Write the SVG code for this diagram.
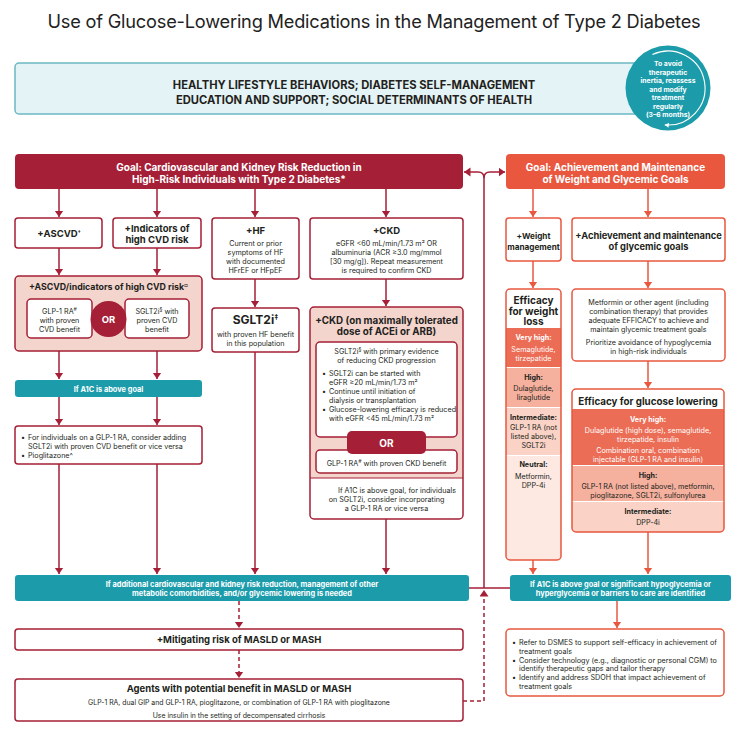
<svg xmlns="http://www.w3.org/2000/svg" width="748" height="737" viewBox="0 0 748 737">
<defs>
<style>
text{font-family:Inter,"Liberation Sans","DejaVu Sans",sans-serif;fill:#231f20}
.c{text-anchor:middle}
.b{font-weight:700}
.sm{font-size:7.2px}
.w{fill:#fff}
.box{fill:#fff;stroke:#a51f36;stroke-width:1.5}
.obox{fill:#fff;stroke:#e9573f;stroke-width:1.5}
.ofr{fill:none;stroke:#e9573f;stroke-width:1.5}
.teal{fill:#1c9cab}
.rl{stroke:#a51f36;stroke-width:1.5;fill:none}
.ol{stroke:#e9573f;stroke-width:1.5;fill:none}
.da{stroke-dasharray:4 3}
.sup{font-size:5.2px}
.vh{fill:#ec6d55}
.hi{fill:#f6b19e}
.im{fill:#fad3c6}
.ne{fill:#fde9e2}
</style>
<marker id="ar" markerUnits="userSpaceOnUse" markerWidth="8" markerHeight="10" refX="6.5" refY="4.5" orient="auto"><path d="M0,0 L6.5,4.5 L0,9 z" fill="#a51f36"/></marker>
<marker id="ao" markerUnits="userSpaceOnUse" markerWidth="8" markerHeight="10" refX="6.5" refY="4.5" orient="auto"><path d="M0,0 L6.5,4.5 L0,9 z" fill="#e9573f"/></marker>
<marker id="aw" markerUnits="userSpaceOnUse" markerWidth="6" markerHeight="6" refX="4" refY="2.5" orient="auto"><path d="M0,0 L4,2.5 L0,5 z" fill="#fff"/></marker>
<clipPath id="cw"><rect x="506" y="289" width="55" height="271" rx="4"/></clipPath>
<clipPath id="cg"><rect x="572" y="389" width="152" height="143" rx="4"/></clipPath>
</defs>
<rect width="748" height="737" fill="#fff"/>

<text x="374" y="28" class="c" font-size="18.2" style="fill:#222;letter-spacing:-0.2px">Use of Glucose-Lowering Medications in the Management of Type 2 Diabetes</text>

<g id="header">
<rect x="15" y="63" width="625" height="51" rx="4" fill="#e4f3f5" stroke="#6bb8c2" stroke-width="1.5"/>
<text x="354" y="89" class="c b" font-size="11.2">HEALTHY LIFESTYLE BEHAVIORS; DIABETES SELF-MANAGEMENT</text>
<text x="354" y="104" class="c b" font-size="11.2">EDUCATION AND SUPPORT; SOCIAL DETERMINANTS OF HEALTH</text>
</g>

<g id="reassess">
<circle cx="668" cy="88" r="42.5" fill="#1c9cab"/>
<path d="M652.4,54.5 A37,37 0 1 1 664.8,124.9" fill="none" stroke="#fff" stroke-width="1.1" marker-end="url(#aw)"/>
<g class="c b" font-size="6.8">
<text x="668" y="66" class="c b w">To avoid</text>
<text x="668" y="74.5" class="c b w">therapeutic</text>
<text x="668" y="83" class="c b w">inertia, reassess</text>
<text x="668" y="91.5" class="c b w">and modify</text>
<text x="668" y="100" class="c b w">treatment</text>
<text x="668" y="108.5" class="c b w">regularly</text>
<text x="668" y="117" class="c b w">(3–6 months)</text>
</g>
</g>

<g id="connectors">
<path class="rl" d="M484,588 V178 Q484,172 478,172 H464" marker-end="url(#ar)"/>
<path class="rl" d="M484,178 Q484,172 490,172 H505" marker-end="url(#ar)"/>
<path class="rl" d="M469,588 H510"/>
<path class="rl" d="M59,189 V217" marker-end="url(#ar)"/>
<path class="rl" d="M157,189 V217" marker-end="url(#ar)"/>
<path class="rl" d="M255,189 V217" marker-end="url(#ar)"/>
<path class="rl" d="M386,189 V217" marker-end="url(#ar)"/>
<path class="rl" d="M59,248 V275" marker-end="url(#ar)"/>
<path class="rl" d="M157,248 V275" marker-end="url(#ar)"/>
<path class="rl" d="M59,338 V379" marker-end="url(#ar)"/>
<path class="rl" d="M157,338 V379" marker-end="url(#ar)"/>
<path class="rl" d="M59,397 V425" marker-end="url(#ar)"/>
<path class="rl" d="M157,397 V425" marker-end="url(#ar)"/>
<path class="rl" d="M59,464 V574" marker-end="url(#ar)"/>
<path class="rl" d="M157,464 V574" marker-end="url(#ar)"/>
<path class="rl" d="M255,279 V307" marker-end="url(#ar)"/>
<path class="rl" d="M255,352 V574" marker-end="url(#ar)"/>
<path class="rl" d="M386,279 V306" marker-end="url(#ar)"/>
<path class="rl" d="M386,519 V574" marker-end="url(#ar)"/>
<path class="rl da" d="M239,601 V628" marker-end="url(#ar)"/>
<path class="rl da" d="M239,650 V678" marker-end="url(#ar)"/>
<path class="rl da" d="M463,701 H484 V590" marker-end="url(#ar)"/>
<path class="ol" d="M533,189 V217" marker-end="url(#ao)"/>
<path class="ol" d="M648,189 V217" marker-end="url(#ao)"/>
<path class="ol" d="M533,261 V288" marker-end="url(#ao)"/>
<path class="ol" d="M648,261 V288" marker-end="url(#ao)"/>
<path class="ol" d="M648,361 V388" marker-end="url(#ao)"/>
<path class="ol" d="M533,560 V574" marker-end="url(#ao)"/>
<path class="ol" d="M648,532 V574" marker-end="url(#ao)"/>
<path class="ol" d="M617,601 V628" marker-end="url(#ao)"/>
</g>

<g id="goal-cv">
<rect x="15" y="154" width="448" height="35" rx="4" fill="#a51f36"/>
<text x="239" y="170.5" class="c b w" font-size="10">Goal: Cardiovascular and Kidney Risk Reduction in</text>
<text x="239" y="182.5" class="c b w" font-size="10">High-Risk Individuals with Type 2 Diabetes*</text>
</g>

<g id="goal-glyc">
<rect x="506" y="154" width="219" height="35" rx="4" fill="#e9573f"/>
<text x="615.5" y="170.5" class="c b w" font-size="10">Goal: Achievement and Maintenance</text>
<text x="615.5" y="182.5" class="c b w" font-size="10">of Weight and Glycemic Goals</text>
</g>

<g id="ascvd">
<rect class="box" x="15" y="218" width="87" height="30" rx="3"/>
<text x="59" y="236.5" class="c b" font-size="9.5">+ASCVD<tspan class="sup" baseline-shift="super">†</tspan></text>
</g>

<g id="indicators">
<rect class="box" x="113" y="218" width="88" height="30" rx="3"/>
<text x="157" y="232" class="c b" font-size="9.5">+Indicators of</text>
<text x="157" y="243" class="c b" font-size="9.5">high CVD risk</text>
</g>

<g id="hf">
<rect class="box" x="212" y="218" width="87" height="61" rx="3"/>
<text x="255.5" y="233.5" class="c b" font-size="9.5">+HF</text>
<text x="255.5" y="246" class="c sm">Current or prior</text>
<text x="255.5" y="255" class="c sm">symptoms of HF</text>
<text x="255.5" y="264" class="c sm">with documented</text>
<text x="255.5" y="273" class="c sm">HFrEF or HFpEF</text>
</g>

<g id="ckd">
<rect class="box" x="310" y="218" width="153" height="61" rx="3"/>
<text x="386.5" y="233.5" class="c b" font-size="9.5">+CKD</text>
<text x="386.5" y="246" class="c sm">eGFR &lt;60 mL/min/1.73 m² OR</text>
<text x="386.5" y="255" class="c sm">albuminuria (ACR ≥3.0 mg/mmol</text>
<text x="386.5" y="264" class="c sm">[30 mg/g]). Repeat measurement</text>
<text x="386.5" y="273" class="c sm">is required to confirm CKD</text>
</g>

<g id="ascvd-risk">
<rect x="15" y="276" width="187" height="75" rx="4" fill="#f4d5ce" stroke="#a51f36" stroke-width="1.5"/>
<text x="108.5" y="289.5" class="c b" font-size="8.8">+ASCVD/indicators of high CVD risk<tspan class="sup" baseline-shift="super">¤</tspan></text>
<rect class="box" x="27" y="299" width="65" height="39" rx="4"/>
<text x="59.5" y="313.5" class="c sm">GLP-1 RA<tspan class="sup" baseline-shift="super">#</tspan></text>
<text x="59.5" y="322.5" class="c sm">with proven</text>
<text x="59.5" y="331.5" class="c sm">CVD benefit</text>
<rect class="box" x="125" y="299" width="64" height="39" rx="4"/>
<text x="157" y="313.5" class="c sm">SGLT2i<tspan class="sup" baseline-shift="super">§</tspan> with</text>
<text x="157" y="322.5" class="c sm">proven CVD</text>
<text x="157" y="331.5" class="c sm">benefit</text>
<circle cx="108.5" cy="319" r="18" fill="#a51f36"/>
<text x="108.5" y="322.5" class="c b w" font-size="9.5">OR</text>
</g>

<g id="a1c-left">
<rect class="teal" x="15" y="380" width="187" height="17" rx="3"/>
<text x="108.5" y="391.5" class="c b w" font-size="7.4">If A1C is above goal</text>
</g>

<g id="combo-left">
<rect class="box" x="15" y="426" width="187" height="38" rx="3"/>
<text x="21" y="439.5" class="sm">•</text>
<text x="28" y="439.5" class="sm">For individuals on a GLP-1 RA, consider adding</text>
<text x="28" y="448.5" class="sm">SGLT2i with proven CVD benefit or vice versa</text>
<text x="21" y="457.5" class="sm">•</text>
<text x="28" y="457.5" class="sm">Pioglitazone^</text>
</g>

<g id="sglt2i-hf">
<rect class="box" x="212" y="308" width="87" height="44" rx="3"/>
<text x="255.5" y="324" class="c b" font-size="12">SGLT2i<tspan class="sup" baseline-shift="super" style="font-size:7px">‡</tspan></text>
<text x="255.5" y="337" class="c sm">with proven HF benefit</text>
<text x="255.5" y="346" class="c sm">in this population</text>
</g>

<g id="ckd-acei">
<rect x="310" y="307" width="153" height="212" rx="4" fill="#fff"/>
<path d="M310,478 V311 Q310,307 314,307 H459 Q463,307 463,311 V478 Z" fill="#f4d5ce"/>
<line x1="310" y1="478" x2="463" y2="478" stroke="#a51f36" stroke-width="1.2"/>
<rect x="310" y="307" width="153" height="212" rx="4" fill="none" stroke="#a51f36" stroke-width="1.5"/>
<text x="386.5" y="323.5" class="c b" font-size="9.8">+CKD (on maximally tolerated</text>
<text x="386.5" y="335" class="c b" font-size="9.8">dose of ACEi or ARB)</text>
<rect class="box" x="316" y="342" width="141" height="95" rx="4"/>
<text x="386.5" y="354" class="c sm">SGLT2i<tspan class="sup" baseline-shift="super">§</tspan> with primary evidence</text>
<text x="386.5" y="363" class="c sm">of reducing CKD progression</text>
<text x="322" y="376" class="sm">•</text>
<text x="329" y="376" class="sm">SGLT2i can be started with</text>
<text x="329" y="385" class="sm">eGFR ≥20 mL/min/1.73 m²</text>
<text x="322" y="394" class="sm">•</text>
<text x="329" y="394" class="sm">Continue until initiation of</text>
<text x="329" y="403" class="sm">dialysis or transplantation</text>
<text x="322" y="412" class="sm">•</text>
<text x="329" y="412" class="sm">Glucose-lowering efficacy is reduced</text>
<text x="329" y="421" class="sm">with eGFR &lt;45 mL/min/1.73 m²</text>
<rect class="box" x="316" y="450" width="141" height="23" rx="4"/>
<text x="386.5" y="466" class="c sm">GLP-1 RA<tspan class="sup" baseline-shift="super">#</tspan> with proven CKD benefit</text>
<rect x="347" y="431" width="79" height="23" rx="5" fill="#a51f36"/>
<text x="386.5" y="446.5" class="c b w" font-size="10">OR</text>
<text x="397" y="493" class="c sm">If A1C is above goal, for individuals</text>
<text x="386.5" y="502" class="c sm">on SGLT2i, consider incorporating</text>
<text x="386.5" y="511" class="c sm">a GLP-1 RA or vice versa</text>
</g>

<g id="weight-mgmt">
<rect class="obox" x="506" y="218" width="55" height="43" rx="3"/>
<text x="533.5" y="239" class="c b" font-size="8.2">+Weight</text>
<text x="533.5" y="250" class="c b" font-size="8.2">management</text>
</g>

<g id="glyc-goals">
<rect class="obox" x="572" y="218" width="153" height="43" rx="3"/>
<text x="648.5" y="238.5" class="c b" font-size="9.3">+Achievement and maintenance</text>
<text x="648.5" y="250" class="c b" font-size="9.3">of glycemic goals</text>
</g>

<g id="weight-efficacy">
<g clip-path="url(#cw)">
<rect x="506" y="289" width="55" height="271" fill="#fff"/>
<rect class="vh" x="506" y="328" width="55" height="39"/>
<rect class="hi" x="506" y="368" width="55" height="39"/>
<rect class="im" x="506" y="408" width="55" height="47"/>
<rect class="ne" x="506" y="456" width="55" height="104"/>
</g>
<rect class="ofr" x="506" y="289" width="55" height="271" rx="4"/>
<text x="533.5" y="303.5" class="c b" font-size="10">Efficacy</text>
<text x="533.5" y="314.5" class="c b" font-size="10">for weight</text>
<text x="533.5" y="325" class="c b" font-size="10">loss</text>
<text x="533.5" y="340" class="c b sm w">Very high:</text>
<text x="533.5" y="352" class="c sm w">Semaglutide,</text>
<text x="533.5" y="361" class="c sm w">tirzepatide</text>
<text x="533.5" y="380" class="c b sm">High:</text>
<text x="533.5" y="391" class="c sm">Dulaglutide,</text>
<text x="533.5" y="400" class="c sm">liraglutide</text>
<text x="533.5" y="420" class="c b sm">Intermediate:</text>
<text x="533.5" y="430" class="c sm">GLP-1 RA (not</text>
<text x="533.5" y="439" class="c sm">listed above),</text>
<text x="533.5" y="448" class="c sm">SGLT2i</text>
<text x="533.5" y="467" class="c b sm">Neutral:</text>
<text x="533.5" y="479" class="c sm">Metformin,</text>
<text x="533.5" y="488" class="c sm">DPP-4i</text>
</g>

<g id="metformin">
<rect class="obox" x="572" y="289" width="153" height="72" rx="4"/>
<text x="648.5" y="305" class="c sm">Metformin or other agent (including</text>
<text x="648.5" y="314" class="c sm">combination therapy) that provides</text>
<text x="648.5" y="323" class="c sm">adequate EFFICACY to achieve and</text>
<text x="648.5" y="332" class="c sm">maintain glycemic treatment goals</text>
<text x="648.5" y="345" class="c sm">Prioritize avoidance of hypoglycemia</text>
<text x="648.5" y="354" class="c sm">in high-risk individuals</text>
</g>

<g id="glucose-efficacy">
<g clip-path="url(#cg)">
<rect x="572" y="389" width="152" height="143" fill="#fff"/>
<rect class="vh" x="572" y="409" width="152" height="56"/>
<rect class="hi" x="572" y="466" width="152" height="35"/>
<rect class="im" x="572" y="502" width="152" height="30"/>
</g>
<rect class="ofr" x="572" y="389" width="152" height="143" rx="4"/>
<text x="648" y="404.5" class="c b" font-size="9.8">Efficacy for glucose lowering</text>
<text x="648" y="422" class="c b sm w">Very high:</text>
<text x="648" y="433" class="c sm w">Dulaglutide (high dose), semaglutide,</text>
<text x="648" y="441.5" class="c sm w">tirzepatide, insulin</text>
<text x="648" y="453" class="c sm w">Combination oral, combination</text>
<text x="648" y="462" class="c sm w">injectable (GLP-1 RA and insulin)</text>
<text x="648" y="478" class="c b sm">High:</text>
<text x="648" y="489" class="c sm">GLP-1 RA (not listed above), metformin,</text>
<text x="648" y="498" class="c sm">pioglitazone, SGLT2i, sulfonylurea</text>
<text x="648" y="514" class="c b sm">Intermediate:</text>
<text x="648" y="525" class="c sm">DPP-4i</text>
</g>

<g id="bar-left">
<rect class="teal" x="15" y="575" width="454" height="26" rx="3"/>
<text x="242" y="586.5" class="c b w" font-size="7.4">If additional cardiovascular and kidney risk reduction, management of other</text>
<text x="242" y="596" class="c b w" font-size="7.4">metabolic comorbidities, and/or glycemic lowering is needed</text>
</g>

<g id="bar-right">
<rect class="teal" x="510" y="575" width="221" height="26" rx="3"/>
<text x="620.5" y="586.5" class="c b w" font-size="7.4">If A1C is above goal or significant hypoglycemia or</text>
<text x="620.5" y="596" class="c b w" font-size="7.4">hyperglycemia or barriers to care are identified</text>
</g>

<g id="masld">
<rect class="box" x="15" y="629" width="448" height="21" rx="3"/>
<text x="239" y="643" class="c b" font-size="9.5">+Mitigating risk of MASLD or MASH</text>
</g>

<g id="agents">
<rect class="box" x="15" y="679" width="448" height="42" rx="3"/>
<text x="239" y="692" class="c b" font-size="9.5">Agents with potential benefit in MASLD or MASH</text>
<text x="239" y="704.5" class="c" font-size="6.9">GLP-1 RA, dual GIP and GLP-1 RA, pioglitazone, or combination of GLP-1 RA with pioglitazone</text>
<text x="239" y="717.5" class="c" font-size="6.9">Use insulin in the setting of decompensated cirrhosis</text>
</g>

<g id="support">
<rect class="obox" x="506" y="629" width="218" height="67" rx="4"/>
<text x="512" y="645" class="sm">•</text>
<text x="519" y="645" class="sm">Refer to DSMES to support self-efficacy in achievement of</text>
<text x="519" y="653.5" class="sm">treatment goals</text>
<text x="512" y="662.5" class="sm">•</text>
<text x="519" y="662.5" class="sm">Consider technology (e.g., diagnostic or personal CGM) to</text>
<text x="519" y="671" class="sm">identify therapeutic gaps and tailor therapy</text>
<text x="512" y="680" class="sm">•</text>
<text x="519" y="680" class="sm">Identify and address SDOH that impact achievement of</text>
<text x="519" y="688.5" class="sm">treatment goals</text>
</g>
</svg>
